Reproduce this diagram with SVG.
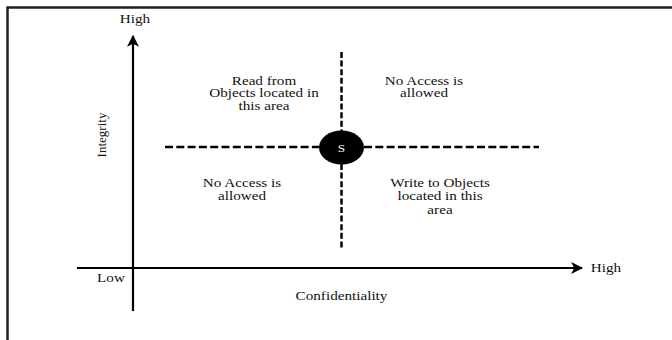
<svg xmlns="http://www.w3.org/2000/svg" width="672" height="340" viewBox="0 0 672 340">
<style>
  text { font-family: "Liberation Serif", "Times New Roman", serif; font-size: 11.5px; fill: #111; text-anchor: middle; }
  .frame { stroke: #222; stroke-width: 2.5; fill: none; }
  .axis { stroke: #000; stroke-width: 2.2; fill: none; }
  .dashh { stroke: #000; stroke-width: 2.5; stroke-dasharray: 8 3.3; fill: none; }
  .dashv { stroke: #000; stroke-width: 2.5; stroke-dasharray: 6 2.6; fill: none; }
</style>
<defs>
  <marker id="arr" viewBox="0 0 10 10" refX="9" refY="5" markerWidth="5.5" markerHeight="5.5" markerUnits="strokeWidth" orient="auto">
    <path d="M0,0 L10,5 L0,10 L2.5,5 Z" fill="#000"/>
  </marker>
</defs>
<rect width="672" height="340" fill="#fff"/>
<path class="frame" d="M7.5,340 V7.5 H672"/>

<g id="connectors">
  <line class="axis" x1="133" y1="311" x2="133" y2="36" marker-end="url(#arr)"/>
  <line class="axis" x1="77" y1="268" x2="582" y2="268" marker-end="url(#arr)"/>
  <line class="dashh" x1="165" y1="147" x2="320" y2="147"/>
  <line class="dashh" x1="364" y1="147" x2="539" y2="147"/>
  <line class="dashv" x1="341.5" y1="52" x2="341.5" y2="131"/>
  <line class="dashv" x1="341.5" y1="164" x2="341.5" y2="249"/>
</g>

<g id="subject">
  <ellipse cx="341.5" cy="147.5" rx="22.5" ry="17" fill="#000"/>
  <text x="0" y="0" transform="translate(341.5 151.5) scale(1.32 1)" style="fill:#fff;font-size:10px">S</text>
</g>

<g id="read-area" transform="translate(264 0) scale(1.32 1)">
  <text x="0" y="85">Read from</text>
  <text x="0" y="97.5">Objects located in</text>
  <text x="0" y="110">this area</text>
</g>

<g id="no-access-top" transform="translate(424 0) scale(1.32 1)">
  <text x="0" y="85">No Access is</text>
  <text x="0" y="97.5">allowed</text>
</g>

<g id="no-access-bottom" transform="translate(242 0) scale(1.32 1)">
  <text x="0" y="187">No Access is</text>
  <text x="0" y="200.5">allowed</text>
</g>

<g id="write-area" transform="translate(440 0) scale(1.32 1)">
  <text x="0" y="187">Write to Objects</text>
  <text x="0" y="200.5">located in this</text>
  <text x="0" y="214">area</text>
</g>

<g id="labels">
  <text transform="translate(135 23) scale(1.32 1)" x="0" y="0">High</text>
  <text transform="translate(606 272) scale(1.32 1)" x="0" y="0">High</text>
  <text transform="translate(111 282) scale(1.32 1)" x="0" y="0">Low</text>
  <text transform="translate(341.5 300) scale(1.32 1)" x="0" y="0">Confidentiality</text>
  <text transform="translate(106 135) rotate(-90)" x="0" y="0" style="font-size:13px">Integrity</text>
</g>
</svg>
